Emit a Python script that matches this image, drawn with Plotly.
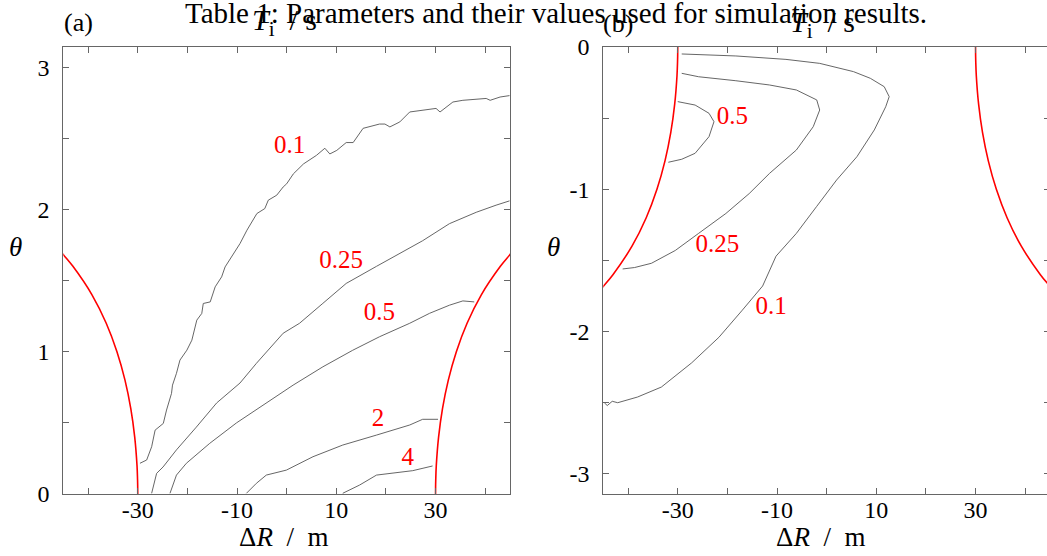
import plotly.graph_objects as go

# ---------------- data ----------------
# red boundary curve (|ΔR|, θ)
bound_r = [30.0, 30.01, 30.04, 30.15, 30.61, 31.40, 32.57, 34.19, 36.35, 39.22, 43.06, 44.94, 45.6]
bound_t = [0.0, 0.05, 0.10, 0.20, 0.40, 0.60, 0.80, 1.00, 1.20, 1.40, 1.60, 1.68, 1.71]

# panel (a) contours
a01_x = [-29.55, -28.2, -27.2, -26.5, -24.85, -24.2, -23.2, -23.0, -22.2, -21.5, -20.1, -19.1, -18.1,
         -17.1, -16.8, -15.4, -14.4, -13.1, -12.4, -10.7, -9.4, -8.0, -6.0, -4.4, -3.7, -2.0, -0.7, 0.0,
         1.35, 3.4, 6.0, 7.7, 8.7, 10.1, 12.0, 13.4, 15.4, 18.7, 19.8, 20.8, 22.8, 24.8, 30.1, 30.9,
         32.2, 33.5, 35.5, 40.2, 41.0, 43.0, 44.9]
a01_y = [0.216, 0.239, 0.332, 0.449, 0.496, 0.59, 0.707, 0.765, 0.848, 0.941, 1.011, 1.081, 1.222,
         1.269, 1.339, 1.350, 1.456, 1.526, 1.596, 1.69, 1.76, 1.854, 1.971, 2.006, 2.065, 2.10, 2.158,
         2.18, 2.25, 2.32, 2.38, 2.43, 2.39, 2.415, 2.47, 2.47, 2.57, 2.60, 2.60, 2.58, 2.615, 2.685,
         2.71, 2.685, 2.72, 2.755, 2.767, 2.78, 2.767, 2.79, 2.80]
a025_x = [-27.2, -26.2, -24.9, -22.2, -18.2, -14.1, -9.4, -6.1, -0.7, 2.6, 7.3, 12.0, 18.1, 22.7, 27.4,
          32.8, 38.2, 42.2, 44.9]
a025_y = [0.005, 0.145, 0.19, 0.31, 0.47, 0.64, 0.78, 0.918, 1.13, 1.2, 1.34, 1.48, 1.6, 1.69, 1.78,
          1.90, 1.98, 2.03, 2.06]
a05_x = [-23.5, -22.2, -20.2, -15.5, -10.1, -4.1, 1.3, 7.3, 13.3, 18.7, 24.8, 28.8, 32.8, 35.5, 37.8]
a05_y = [0.005, 0.133, 0.216, 0.356, 0.50, 0.637, 0.765, 0.894, 1.01, 1.105, 1.2, 1.27, 1.327, 1.357, 1.35]
a2_x = [-8.1, -6.1, -4.1, -0.05, 5.3, 11.3, 18.1, 24.8, 27.4, 30.5]
a2_y = [0.005, 0.075, 0.133, 0.168, 0.262, 0.344, 0.414, 0.485, 0.525, 0.525]
a4_x = [11.3, 14.7, 18.1, 25.4, 29.4]
a4_y = [0.005, 0.063, 0.133, 0.164, 0.197]

# panel (b) contours
b01_x = [-29.2, -18.3, -8.2, -1.4, 5.4, 8.8, 11.6, 12.6, 11.9, 9.6, 6.1, 2.0, -2.0, -6.1, -10.2, -12.9,
         -17.0, -21.7, -27.2, -33.3, -38.1, -42.1, -43.2, -44.2, -44.8]
b01_y = [-0.049, -0.063, -0.087, -0.115, -0.173, -0.22, -0.279, -0.349, -0.42, -0.583, -0.771, -0.935,
         -1.12, -1.31, -1.47, -1.68, -1.85, -2.04, -2.22, -2.39, -2.46, -2.50, -2.49, -2.52, -2.50]
b025_x = [-29.2, -25.8, -18.3, -11.5, -6.1, -2.0, -1.4, -2.7, -6.1, -11.5, -15.6, -20.3, -25.8, -30.5,
          -35.3, -38.7, -41.1]
b025_y = [-0.185, -0.209, -0.237, -0.267, -0.302, -0.372, -0.443, -0.56, -0.724, -0.888, -1.03, -1.17,
          -1.31, -1.43, -1.52, -1.55, -1.56]
b05_x = [-30.0, -26.5, -23.7, -22.7, -23.7, -26.5, -29.2, -31.9]
b05_y = [-0.384, -0.408, -0.466, -0.525, -0.63, -0.747, -0.789, -0.81]

# contour labels
a_lab_text = ["0.1", "0.25", "0.5", "2", "4"]
a_lab_x = [0.6, 11.0, 18.7, 18.4, 24.4]
a_lab_y = [2.44, 1.63, 1.27, 0.52, 0.25]
b_lab_text = ["0.5", "0.25", "0.1"]
b_lab_x = [-19.0, -22.0, -11.2]
b_lab_y = [-0.50, -1.40, -1.83]

x_tickvals = [-40, -30, -20, -10, 0, 10, 20, 30, 40]
x_ticktext = ["", "-30", "", "-10", "", "10", "", "30", ""]
ya_tickvals = [0, 0.5, 1, 1.5, 2, 2.5, 3]
ya_ticktext = ["0", "", "1", "", "2", "", "3"]
yb_tickvals = [0, -0.5, -1, -1.5, -2, -2.5, -3]
yb_ticktext = ["0", "", "-1", "", "-2", "", "-3"]

# ---------------- figure ----------------
W, H = 1047, 556
FONT = "Liberation Serif"
FS = 24
GRAY = "#555555"
AXC = "#666666"
PXU = (510 - 63.3) / 90.0          # pixels per ΔR unit (same in both panels)
XB_MAX = -45 + (W - 603.3) / PXU   # visible end of panel (b)

fig = go.Figure()

def line(x, y, xa, ya, color=GRAY, width=0.9, shape="linear"):
    fig.add_trace(go.Scatter(x=x, y=y, mode="lines", xaxis=xa, yaxis=ya,
                             line=dict(color=color, width=width, shape=shape),
                             showlegend=False, hoverinfo="skip", cliponaxis=True))

# panel (a)
for cx, cy in [(a01_x, a01_y), (a025_x, a025_y), (a05_x, a05_y), (a2_x, a2_y), (a4_x, a4_y)]:
    line(cx, cy, "x", "y")
line([-r for r in bound_r], bound_t, "x", "y", color="red", width=1.6, shape="spline")
line(bound_r, bound_t, "x", "y", color="red", width=1.6, shape="spline")
fig.add_trace(go.Scatter(x=a_lab_x, y=a_lab_y, text=a_lab_text, mode="text", xaxis="x", yaxis="y",
                         textfont=dict(color="red", size=25, family=FONT), showlegend=False,
                         hoverinfo="skip"))

# panel (b)
for cx, cy in [(b01_x, b01_y), (b025_x, b025_y), (b05_x, b05_y)]:
    line(cx, cy, "x2", "y2")
line([-r for r in bound_r], [-t for t in bound_t], "x2", "y2", color="red", width=1.6, shape="spline")
line(bound_r, [-t for t in bound_t], "x2", "y2", color="red", width=1.6, shape="spline")
fig.add_trace(go.Scatter(x=b_lab_x, y=b_lab_y, text=b_lab_text, mode="text", xaxis="x2", yaxis="y2",
                         textfont=dict(color="red", size=25, family=FONT), showlegend=False,
                         hoverinfo="skip"))
# invisible trace to activate the right-edge tick axis of panel (b)
fig.add_trace(go.Scatter(x=[0], y=[0], mode="markers", marker=dict(opacity=0), xaxis="x2", yaxis="y3",
                         showlegend=False, hoverinfo="skip"))

ax_common = dict(showline=True, linecolor=AXC, linewidth=1.2, ticks="inside", automargin=False,
                 ticklen=6, tickcolor=AXC, tickwidth=1, showgrid=False, zeroline=False,
                 tickfont=dict(family=FONT, size=FS, color="black"))

ydom = [62 / H, 509 / H]
fig.update_layout(
    width=W, height=H, margin=dict(l=0, r=0, t=0, b=0, autoexpand=False),
    paper_bgcolor="white", plot_bgcolor="white",
    font=dict(family=FONT, size=FS, color="black"),
    xaxis=dict(domain=[63.3 / W, 510 / W], range=[-45, 45], tickmode="array", mirror="ticks",
               tickvals=x_tickvals, ticktext=x_ticktext, anchor="y", ticklabelstandoff=-6, **ax_common),
    yaxis=dict(domain=ydom, range=[0, 3.14159], tickmode="array", tickvals=ya_tickvals, mirror="ticks",
               ticktext=ya_ticktext, anchor="x", ticklabelstandoff=8, **ax_common),
    xaxis2=dict(domain=[603.3 / W, 1.0], range=[-45, XB_MAX], tickmode="array", mirror="ticks",
                tickvals=x_tickvals, ticktext=x_ticktext, anchor="y2", ticklabelstandoff=-6, **ax_common),
    yaxis2=dict(domain=ydom, range=[-3.14159, 0], tickmode="array", tickvals=yb_tickvals, mirror=False,
                ticktext=yb_ticktext, anchor="x2", ticklabelstandoff=8, **ax_common),
    yaxis3=dict(overlaying="y2", side="right", anchor="free", position=1.0, range=[-3.14159, 0],
                tickmode="array", tickvals=yb_tickvals, showticklabels=False, showline=False,
                automargin=False, ticks="inside", ticklen=3, tickcolor=AXC, showgrid=False,
                zeroline=False),
)

def ann(text, px, py, size=FS, xanchor="center"):
    fig.add_annotation(text=text, x=px / W, y=1 - py / H, xref="paper", yref="paper",
                       xanchor=xanchor, yanchor="middle", showarrow=False,
                       font=dict(family=FONT, size=size, color="black"))

ann("Table 1: Parameters and their values used for simulation results.", 556, 13, size=29)
ann("(a)", 78, 23, size=26)
ann("(b)", 618, 24, size=26)
ann("<i>T</i><sub>i</sub>&nbsp; /&nbsp;s", 284, 22, size=30)
ann("<i>T</i><sub>i</sub>&nbsp; /&nbsp;s", 822, 24, size=30)
ann("<i>θ</i>", 15, 247, size=27)
ann("<i>θ</i>", 553, 247, size=27)
ann("Δ<i>R</i>&nbsp; /&nbsp; m", 283, 537, size=27)
ann("Δ<i>R</i>&nbsp; /&nbsp; m", 820, 537, size=27)

fig.write_html("out.html", config={"displayModeBar": False},
               post_script="document.body.style.margin='0';document.body.style.overflow='hidden';")
